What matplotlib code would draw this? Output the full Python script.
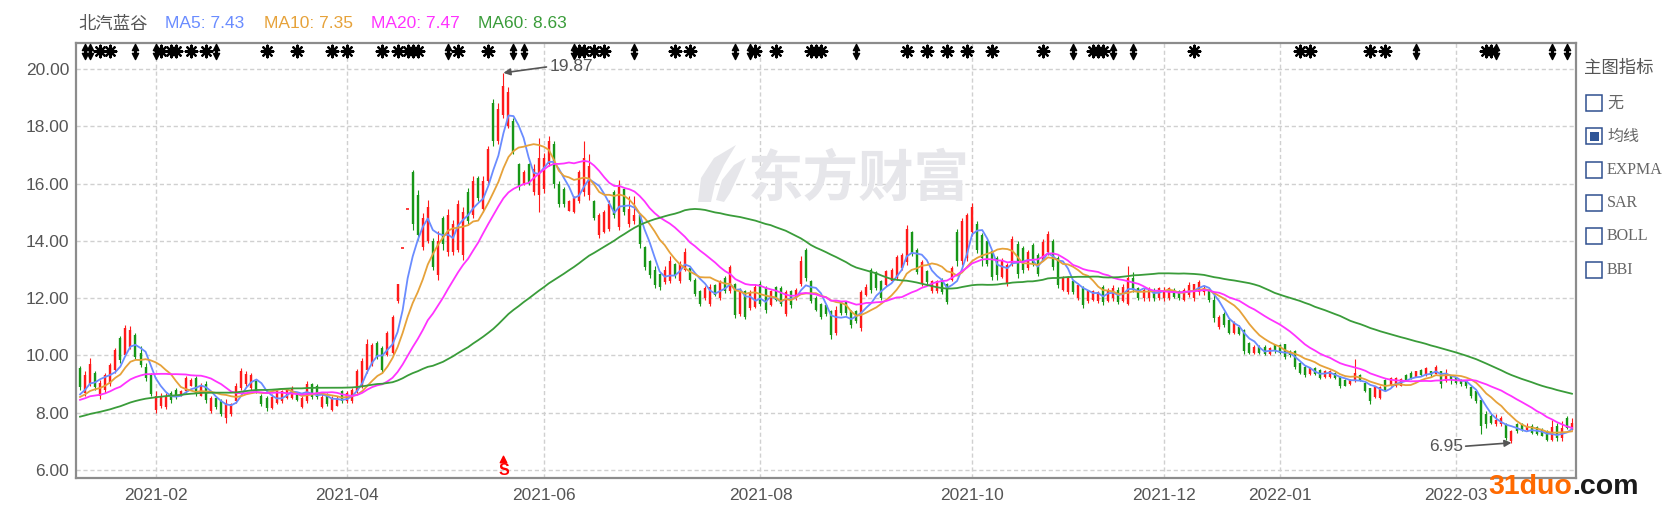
import matplotlib
matplotlib.use("Agg")
import matplotlib.pyplot as plt
from matplotlib.patches import Rectangle, Polygon
import numpy as np
import pandas as pd

plt.rcParams['font.family'] = ['Liberation Sans', 'Noto Sans CJK SC', 'DejaVu Sans']

# trading days on screen and exchange holidays inside the window
first_day = '2021-01-11'
last_day = '2022-04-01'
holidays = ['2021-02-11', '2021-02-12', '2021-02-15', '2021-02-16', '2021-02-17',
            '2021-04-05', '2021-05-03', '2021-05-04', '2021-05-05', '2021-06-14',
            '2021-09-20', '2021-09-21', '2021-10-01', '2021-10-04', '2021-10-05',
            '2021-10-06', '2021-10-07', '2022-01-03', '2022-01-31', '2022-02-01',
            '2022-02-02', '2022-02-03', '2022-02-04']

month_labels = ['2021-02', '2021-04', '2021-06', '2021-08', '2021-10', '2021-12', '2022-01', '2022-03']

# closes before the first bar, only used to start the moving averages
pre_closes = [6.6, 6.7, 6.65, 6.8, 6.75, 6.9, 6.85, 6.8, 6.95, 7.0, 6.9, 7.05, 7.0, 7.1, 7.15,
              7.3, 7.5, 7.6, 7.8, 7.7, 7.9, 8.1, 8.0, 7.9, 8.2, 8.3, 8.1, 8.0, 8.2, 8.4,
              8.3, 8.1, 8.0, 7.9, 8.0, 8.1, 8.2, 8.0, 7.9, 8.0,
              8.2, 8.3, 8.4, 8.5, 8.3, 8.2, 8.4, 8.5, 8.3, 8.4,
              8.4, 8.5, 8.3, 8.6, 8.5, 8.5, 8.6, 8.7, 8.5]

opens = [
    9.55, 8.70, 9.00, 9.40, 8.60, 8.80, 9.00, 9.50, 10.60, 10.00, 10.30, 10.70, 10.10, 9.60, 9.30,
    8.10, 8.25, 8.20, 8.70, 8.80, 8.60, 8.75, 8.95, 9.20, 8.60, 9.00, 8.05, 8.50, 8.40, 7.80,
    7.95, 8.40, 8.85, 9.00, 8.85, 9.10, 8.60, 8.50, 8.15, 8.35, 8.40, 8.50, 8.50, 8.65, 8.20, 8.40, 9.00, 8.95, 8.20, 8.65, 8.10, 8.25, 8.75,
    8.40, 8.40, 8.75, 8.95, 9.50, 9.70, 10.45, 10.25, 10.00, 10.10, 11.90, 13.74, 15.11, 16.40, 15.60, 13.80, 14.00, 14.00, 12.80, 14.80, 13.60,
    13.60, 13.70, 13.50, 15.70, 14.90, 16.20, 15.10, 16.10, 18.80, 17.50, 18.40, 18.00, 18.20, 16.70, 16.00, 16.70, 15.70, 15.60,
    15.80, 16.70, 17.40, 16.00, 15.80, 15.05, 15.00, 15.40, 15.70, 15.60, 15.40, 14.20, 14.30, 14.40, 15.70, 14.50, 15.80, 14.60, 14.70, 14.90, 13.80,
    13.30, 13.00, 12.85, 12.55, 12.60, 13.20, 12.60, 13.00, 13.05, 12.65, 12.25, 12.00, 11.80, 12.45, 12.00, 12.70, 12.25, 12.50, 11.45, 12.25, 11.65, 11.70,
    12.50, 12.35, 11.75, 12.40, 12.35, 11.45, 12.25, 12.00, 12.50, 13.70, 12.60, 12.00, 11.80, 11.75, 11.55, 10.80, 11.85, 11.85, 11.55, 11.55, 10.95, 12.10,
    13.00, 12.90, 12.60, 12.45, 12.60, 12.70, 13.05, 13.25, 14.30, 13.70, 12.50, 12.95, 12.25, 12.25, 12.65, 12.50, 12.65, 14.30, 13.30, 13.40,
    14.30, 14.60, 14.20, 14.00, 13.65, 13.40, 12.75, 12.50, 13.20, 13.90, 13.75, 13.05, 13.85, 13.50, 13.35, 13.60,
    14.00, 13.40, 12.30, 12.20, 12.60, 12.00, 12.35, 11.90, 11.95, 11.90, 12.40, 11.90, 12.00, 12.30, 11.90, 11.80, 12.70, 12.35, 12.00, 12.00, 12.30, 12.00,
    12.00, 12.00, 12.30, 12.25, 11.95, 12.10, 12.00, 12.20, 12.20, 12.30, 11.95, 11.00, 11.45, 11.25, 10.80, 11.00, 10.90, 10.45, 10.10, 10.30, 10.30, 10.05, 10.35,
    10.35, 10.40, 10.15, 10.15, 9.75, 9.60, 9.35, 9.55, 9.50, 9.25, 9.25, 9.40, 9.25, 9.15, 9.00, 9.10, 9.30, 9.05, 8.85,
    8.55, 8.50, 9.15, 8.95, 8.95, 8.95, 9.30, 9.40, 9.25, 9.50, 9.30, 9.45, 9.35, 9.45, 9.10, 9.30,
    9.20, 9.15, 9.10, 8.90, 8.75, 8.45, 7.95, 7.90, 7.60, 7.60, 7.60, 7.00, 7.60, 7.60, 7.40, 7.55, 7.50, 7.40, 7.35, 7.05, 7.55, 7.10, 7.80, 7.40]

highs = [
    9.63, 9.45, 9.92, 9.45, 9.16, 9.40, 9.74, 10.27, 10.67, 11.08, 11.02, 10.79, 10.33, 9.74, 9.40,
    8.76, 8.70, 8.70, 8.76, 8.87, 8.81, 9.28, 9.22, 9.28, 9.05, 9.10, 8.58, 8.58, 8.47, 8.47,
    8.35, 9.05, 9.57, 9.45, 9.40, 9.16, 8.64, 8.58, 8.64, 8.81, 8.81, 8.87, 8.93, 8.70, 8.58, 9.10, 9.05, 8.99, 8.64, 8.70, 8.58, 8.58, 8.81,
    8.76, 8.87, 9.51, 9.92, 10.56, 10.44, 10.51, 10.33, 10.85, 11.43, 12.49, 13.74, 15.11, 16.49, 15.79, 14.98, 15.44, 14.10, 14.34, 14.86, 15.10,
    14.74, 15.44, 15.20, 15.85, 16.26, 16.26, 16.26, 17.31, 18.95, 18.80, 19.87, 19.36, 18.30, 16.73, 16.49, 16.73, 16.67, 17.60,
    17.08, 17.66, 17.49, 16.10, 15.90, 15.44, 15.56, 16.49, 17.50, 17.02, 15.44, 14.97, 15.09, 15.44, 15.79, 16.14, 15.85, 15.56, 15.56, 14.97, 13.81,
    13.35, 13.12, 12.88, 13.12, 13.47, 13.23, 13.29, 13.76, 13.12, 12.71, 12.30, 12.42, 12.48, 12.48, 12.65, 12.77, 13.17, 12.53, 12.36, 12.30, 12.30, 12.48,
    12.59, 12.42, 12.30, 12.42, 12.42, 12.30, 12.30, 12.36, 13.47, 13.76, 12.65, 12.07, 11.84, 11.78, 11.60, 11.72, 11.90, 11.90, 11.60, 11.60, 12.30, 12.48,
    13.06, 12.94, 12.65, 13.00, 13.06, 13.52, 13.58, 14.57, 14.34, 13.76, 13.35, 13.00, 12.65, 12.65, 12.71, 12.53, 13.12, 14.40, 14.80, 14.98,
    15.33, 14.69, 14.28, 14.05, 13.70, 13.47, 13.41, 13.23, 14.16, 13.99, 13.81, 13.70, 13.93, 13.58, 14.05, 14.34,
    14.05, 13.47, 12.77, 12.77, 12.65, 12.53, 12.42, 12.30, 12.30, 12.24, 12.47, 12.35, 12.45, 12.40, 12.50, 13.14, 12.90, 12.40, 12.35, 12.40, 12.35, 12.40,
    12.40, 12.38, 12.35, 12.30, 12.35, 12.55, 12.50, 12.65, 12.45, 12.35, 12.12, 11.41, 11.53, 11.30, 11.20, 11.05, 10.94, 10.47, 10.35, 10.35, 10.35, 10.30, 10.41,
    10.40, 10.41, 10.20, 10.18, 9.76, 9.65, 9.60, 9.60, 9.53, 9.50, 9.50, 9.41, 9.29, 9.18, 9.18, 9.88, 9.35, 9.06, 8.88,
    8.94, 8.94, 9.18, 9.24, 9.24, 9.20, 9.35, 9.47, 9.47, 9.53, 9.59, 9.47, 9.65, 9.47, 9.53, 9.32,
    9.24, 9.18, 9.12, 8.94, 8.76, 8.47, 8.06, 7.94, 7.94, 7.90, 7.65, 7.41, 7.65, 7.65, 7.65, 7.60, 7.55, 7.47, 7.41, 7.76, 7.65, 7.71, 7.88, 7.80]

lows = [
    8.81, 8.58, 8.93, 8.81, 8.47, 8.70, 8.93, 9.40, 9.74, 9.98, 10.21, 9.86, 9.60, 9.10, 8.58,
    8.00, 8.17, 8.12, 8.35, 8.47, 8.58, 8.70, 8.93, 8.58, 8.58, 8.35, 8.00, 8.12, 7.88, 7.65,
    7.88, 8.35, 8.81, 8.93, 8.81, 8.70, 8.23, 8.05, 8.12, 8.29, 8.35, 8.47, 8.47, 8.41, 8.17, 8.35, 8.47, 8.47, 8.17, 8.23, 8.05, 8.23, 8.35,
    8.35, 8.35, 8.70, 8.87, 9.40, 9.63, 9.87, 9.40, 9.98, 10.00, 11.84, 13.74, 15.11, 14.39, 14.04, 13.70, 13.93, 13.00, 12.65, 13.70, 13.47,
    13.50, 13.60, 13.35, 14.60, 14.80, 15.40, 15.00, 16.02, 17.31, 17.40, 18.30, 17.95, 17.02, 15.79, 15.96, 15.96, 15.61, 15.00,
    15.67, 16.60, 15.85, 15.20, 15.20, 15.03, 14.97, 15.32, 15.56, 15.44, 14.74, 14.10, 14.28, 14.34, 14.80, 14.39, 14.90, 14.50, 14.60, 13.76, 13.00,
    12.71, 12.36, 12.30, 12.48, 12.53, 12.71, 12.53, 12.94, 12.59, 12.07, 11.72, 11.95, 11.72, 12.07, 11.95, 12.19, 12.19, 11.31, 11.37, 11.26, 11.60, 11.66,
    11.72, 11.49, 11.72, 11.90, 11.72, 11.37, 11.66, 11.95, 12.42, 12.59, 11.84, 11.55, 11.26, 11.37, 10.56, 10.73, 11.43, 11.43, 10.97, 11.14, 10.85, 12.07,
    12.19, 12.30, 11.95, 12.42, 12.59, 12.65, 13.00, 13.17, 13.47, 12.83, 12.42, 12.48, 12.19, 12.19, 12.13, 11.78, 12.59, 13.12, 13.17, 13.29,
    14.16, 13.58, 13.12, 13.12, 12.65, 12.65, 12.71, 12.42, 13.12, 12.71, 12.88, 13.00, 13.12, 12.77, 13.29, 13.52,
    13.00, 12.36, 12.24, 12.13, 12.13, 11.95, 11.66, 11.84, 11.90, 11.84, 11.76, 11.85, 11.90, 11.80, 11.85, 11.75, 12.20, 11.92, 11.90, 11.90, 11.90, 11.95,
    11.90, 11.95, 12.00, 11.95, 11.90, 12.05, 11.90, 12.10, 12.10, 11.85, 11.18, 10.94, 11.00, 10.76, 10.75, 10.70, 10.06, 10.06, 10.05, 10.05, 10.00, 10.00, 10.10,
    10.05, 9.88, 9.95, 9.53, 9.35, 9.24, 9.30, 9.30, 9.18, 9.20, 9.20, 9.18, 8.88, 8.94, 8.98, 9.06, 9.12, 8.71, 8.29,
    8.53, 8.47, 8.76, 8.94, 8.90, 8.94, 9.12, 9.18, 9.24, 9.29, 9.29, 9.24, 9.35, 8.88, 9.06, 9.00,
    9.00, 8.94, 8.88, 8.53, 8.35, 7.24, 7.47, 7.60, 7.53, 7.55, 7.06, 6.95, 7.30, 7.35, 7.35, 7.25, 7.22, 7.18, 7.00, 7.00, 7.02, 7.02, 7.42, 7.38]

closes = [
    8.90, 9.30, 9.70, 8.90, 9.05, 9.30, 9.65, 10.20, 9.85, 10.95, 10.90, 9.95, 9.65, 9.20, 8.65,
    8.60, 8.60, 8.60, 8.45, 8.55, 8.75, 9.20, 9.15, 8.70, 8.95, 8.45, 8.50, 8.20, 7.95, 8.35,
    8.30, 8.95, 9.45, 9.35, 9.30, 8.75, 8.30, 8.15, 8.55, 8.75, 8.75, 8.80, 8.85, 8.45, 8.50, 9.00, 8.55, 8.55, 8.55, 8.30, 8.50, 8.50, 8.40,
    8.70, 8.80, 9.45, 9.80, 10.40, 10.35, 9.95, 9.50, 10.80, 11.35, 12.49, 13.74, 15.11, 14.60, 14.20, 14.80, 15.20, 13.10, 14.00, 13.90, 14.90,
    14.60, 15.30, 15.00, 14.70, 16.10, 15.50, 16.10, 17.20, 17.50, 18.60, 19.40, 19.20, 17.10, 15.90, 16.40, 16.00, 16.50, 16.90,
    16.90, 17.50, 16.00, 15.30, 15.30, 15.40, 15.50, 16.40, 16.90, 16.60, 14.80, 14.90, 15.00, 15.30, 14.90, 15.90, 15.00, 15.10, 14.90, 13.90, 13.10,
    12.80, 12.45, 12.40, 13.00, 13.30, 12.80, 13.20, 13.60, 12.65, 12.15, 11.80, 12.35, 12.40, 12.10, 12.60, 12.25, 13.10, 11.40, 12.20, 11.35, 12.20, 12.40,
    11.80, 11.60, 12.25, 11.95, 11.80, 12.20, 11.75, 12.30, 13.30, 12.70, 11.90, 11.60, 11.35, 11.45, 10.70, 11.60, 11.50, 11.50, 11.05, 11.20, 12.20, 12.40,
    12.30, 12.35, 12.00, 12.95, 13.00, 13.45, 13.50, 14.40, 13.55, 12.90, 13.25, 12.55, 12.60, 12.60, 12.20, 11.85, 13.05, 13.30, 14.70, 14.90,
    15.20, 13.70, 13.40, 13.20, 12.75, 12.80, 13.35, 13.15, 14.05, 12.85, 13.00, 13.60, 13.20, 12.85, 13.95, 14.25,
    13.10, 12.45, 12.70, 12.70, 12.20, 12.45, 11.75, 12.25, 12.25, 12.20, 11.85, 12.30, 12.35, 11.85, 12.40, 12.70, 12.30, 12.00, 12.30, 12.30, 12.00, 12.35,
    12.30, 12.35, 12.05, 12.00, 12.30, 12.45, 12.50, 12.55, 12.35, 11.95, 11.30, 11.35, 11.05, 10.80, 11.15, 10.75, 10.15, 10.10, 10.30, 10.10, 10.05, 10.25, 10.15,
    10.10, 9.95, 10.00, 9.60, 9.40, 9.30, 9.55, 9.35, 9.20, 9.45, 9.45, 9.20, 8.95, 8.95, 9.15, 9.40, 9.15, 8.75, 8.40,
    8.90, 8.90, 8.80, 9.20, 9.20, 9.18, 9.15, 9.20, 9.45, 9.30, 9.55, 9.30, 9.60, 9.00, 9.40, 9.15,
    9.05, 9.00, 8.95, 8.60, 8.40, 7.55, 7.60, 7.65, 7.75, 7.80, 7.10, 7.35, 7.35, 7.40, 7.55, 7.30, 7.25, 7.20, 7.05, 7.50, 7.10, 7.45, 7.45, 7.65]

# event icons along the top edge (bar indices)
arrow_days = [1, 2, 11, 15, 27, 73, 86, 88, 98, 110, 130, 133, 154, 197, 205, 209, 265, 281, 292, 295]
star_days = [4, 6, 16, 18, 19, 22, 25, 37, 43, 50, 53, 60, 63, 65, 66, 67, 75, 81, 99, 100, 102, 104,
             118, 121, 134, 138, 145, 146, 147, 164, 168, 172, 176, 181, 191, 201, 202, 203, 221,
             242, 244, 256, 259, 279, 280]

ma_windows = [5, 10, 20, 60]
ma_colors = ['#6a8cff', '#e6a23a', '#ff33ff', '#3a9c3a']
ma_texts = ['MA5: 7.43', 'MA10: 7.35', 'MA20: 7.47', 'MA60: 8.63']

panel_items = ['无', '均线', 'EXPMA', 'SAR', 'BOLL', 'BBI']
panel_checked = '均线'

W, H = 1665, 507
def fx(x):
    return x / W
def fy(y):
    return 1 - y / H

dates = pd.bdate_range(first_day, last_day)
dates = dates[~dates.isin(pd.to_datetime(holidays))]
if len(dates) != len(closes):
    raise ValueError(f'{len(dates)} dates vs {len(closes)} bars')
ym = np.array(dates.strftime('%Y-%m'))
tick_pos = [int(np.argmax(ym == m)) for m in month_labels]

o = np.array(opens)
hi = np.array(highs)
lo = np.array(lows)
c = np.array(closes)
x = np.arange(len(c))

fig = plt.figure(figsize=(W / 100, H / 100), dpi=100)
ax = fig.add_axes([fx(76), fy(478), (1576 - 76) / W, (478 - 42.5) / H])

red, green = '#ff1a1a', '#179617'
cols = np.where(c >= o, red, green)
ax.vlines(x, lo, hi, colors=cols, lw=0.8, zorder=3)
ax.vlines(x, np.minimum(o, c), np.maximum(o, c), colors=cols, lw=1.7, zorder=3)
flat = np.abs(c - o) < 0.02
ax.hlines(c[flat], x[flat] - 0.35, x[flat] + 0.35, colors=cols[flat], lw=1.2, zorder=3)

allc = pd.Series(pre_closes + closes)
for w, col in zip(ma_windows, ma_colors):
    ma = allc.rolling(w).mean().to_numpy()[len(pre_closes):]
    ax.plot(x, ma, color=col, lw=1.3, zorder=4)

ax.set_xlim(-0.8, 296.8)
ax.set_ylim(5.72, 20.93)
ax.set_xticks(tick_pos)
ax.set_xticklabels(month_labels)
yt = np.arange(6, 21, 2)
ax.set_yticks(yt)
ax.set_yticklabels([f'{v:.2f}' for v in yt])
ax.tick_params(length=0, labelsize=12.5, labelcolor='#555555')
ax.tick_params(axis='x', pad=7)
ax.tick_params(axis='y', pad=5)
ax.grid(True, color='#d0d0d0', ls=(0, (3, 2)), lw=1)
ax.set_axisbelow(True)
for s in ax.spines.values():
    s.set_color('#8c8c8c')
    s.set_linewidth(1.6)

# event icons
ym_icon = 20.62
ax.scatter(star_days, [ym_icon] * len(star_days), marker=(8, 2, 0), s=70, c='k', lw=1.6, zorder=6, clip_on=False)
ax.scatter(star_days, [ym_icon] * len(star_days), marker='o', s=18, c='k', zorder=6, clip_on=False)
ax.vlines(arrow_days, ym_icon - 0.14, ym_icon + 0.14, colors='k', lw=2.2, zorder=6)
ax.scatter(arrow_days, [ym_icon + 0.15] * len(arrow_days), marker='^', s=20, c='k', zorder=6, clip_on=False)
ax.scatter(arrow_days, [ym_icon - 0.15] * len(arrow_days), marker='v', s=20, c='k', zorder=6, clip_on=False)

# max / min labels
imax = int(np.argmax(hi))
imin = int(np.argmin(lo))
ax.annotate(f'{hi[imax]:.2f}', xy=(imax, hi[imax]), xytext=(33, 4.5), textcoords='offset points',
            ha='left', va='center', fontsize=12.5, color='#555555', zorder=7,
            arrowprops=dict(arrowstyle='-|>', color='#555555', lw=1.2, shrinkA=0, shrinkB=0,
                            relpos=(0, 0.5), mutation_scale=10))
ax.annotate(f'{lo[imin]:.2f}', xy=(imin, lo[imin]), xytext=(-35, -2.6), textcoords='offset points',
            ha='right', va='center', fontsize=12.5, color='#555555', zorder=7,
            arrowprops=dict(arrowstyle='-|>', color='#555555', lw=1.2, shrinkA=0, shrinkB=0,
                            relpos=(1, 0.5), mutation_scale=10))

# sell signal at the top bar
ax.text(imax, 5.97, 'S', color='#ff0000', fontweight='bold', fontsize=11.5, ha='center', va='center', zorder=7)
ax.scatter([imax], [6.37], marker='^', s=22, c='#ff0000', zorder=7)

# watermark
ax.text(fx(748), fy(180), '东方财富', transform=fig.transFigure, family=['Noto Sans CJK SC'],
        fontweight='bold', fontsize=40, color='#e6e6ea', ha='left', va='center', zorder=1)
leaf1 = [(698, 202), (701, 178), (714, 158), (736, 145), (724, 165), (715, 184), (711, 202)]
leaf2 = [(716, 200), (722, 180), (734, 165), (746, 158), (738, 176), (730, 193), (724, 202)]
for leaf in (leaf1, leaf2):
    ax.add_patch(Polygon([(fx(a), fy(b)) for a, b in leaf], closed=True, transform=fig.transFigure,
                         facecolor='#e6e6ea', edgecolor='none', zorder=1))

# title row
fig.text(fx(78), fy(24), '北汽蓝谷', family=['Noto Sans CJK SC'], fontsize=12.5, color='#555555', va='center')
for xp, txt, col in zip([165, 264, 371, 478], ma_texts, ma_colors):
    fig.text(fx(xp), fy(24), txt, fontsize=12.5, color=col, va='center')

# right-side indicator panel
fig.text(fx(1584), fy(68), '主图指标', family=['Noto Sans CJK SC'], fontsize=12.5, color='#555555', va='center')
for k, item in enumerate(panel_items):
    yc = 103 + k * 33.3
    fig.add_artist(Rectangle((fx(1586), fy(yc + 8)), 16 / W, 16 / H, transform=fig.transFigure,
                             facecolor='white', edgecolor='#2f4f8f', lw=1.1))
    if item == panel_checked:
        fig.add_artist(Rectangle((fx(1590), fy(yc + 4.5)), 9 / W, 9 / H, transform=fig.transFigure,
                                 facecolor='#2f5597', edgecolor='none'))
    fam = ['Noto Sans CJK SC'] if item in ('无', '均线') else ['Liberation Serif']
    fig.text(fx(1607), fy(yc), item, family=fam, fontsize=11.5, color='#666666', va='center')

# site stamp
t1 = fig.text(fx(1488), fy(487), '31duo', fontsize=20.5, fontweight='bold', color='#ff6a00', va='center')
fig.canvas.draw()
bb = t1.get_window_extent(fig.canvas.get_renderer())
fig.text(bb.x1 / W, fy(487), '.com', fontsize=20.5, fontweight='bold', color='#1a1a1a', va='center')

fig.savefig('out.png', dpi=100)
